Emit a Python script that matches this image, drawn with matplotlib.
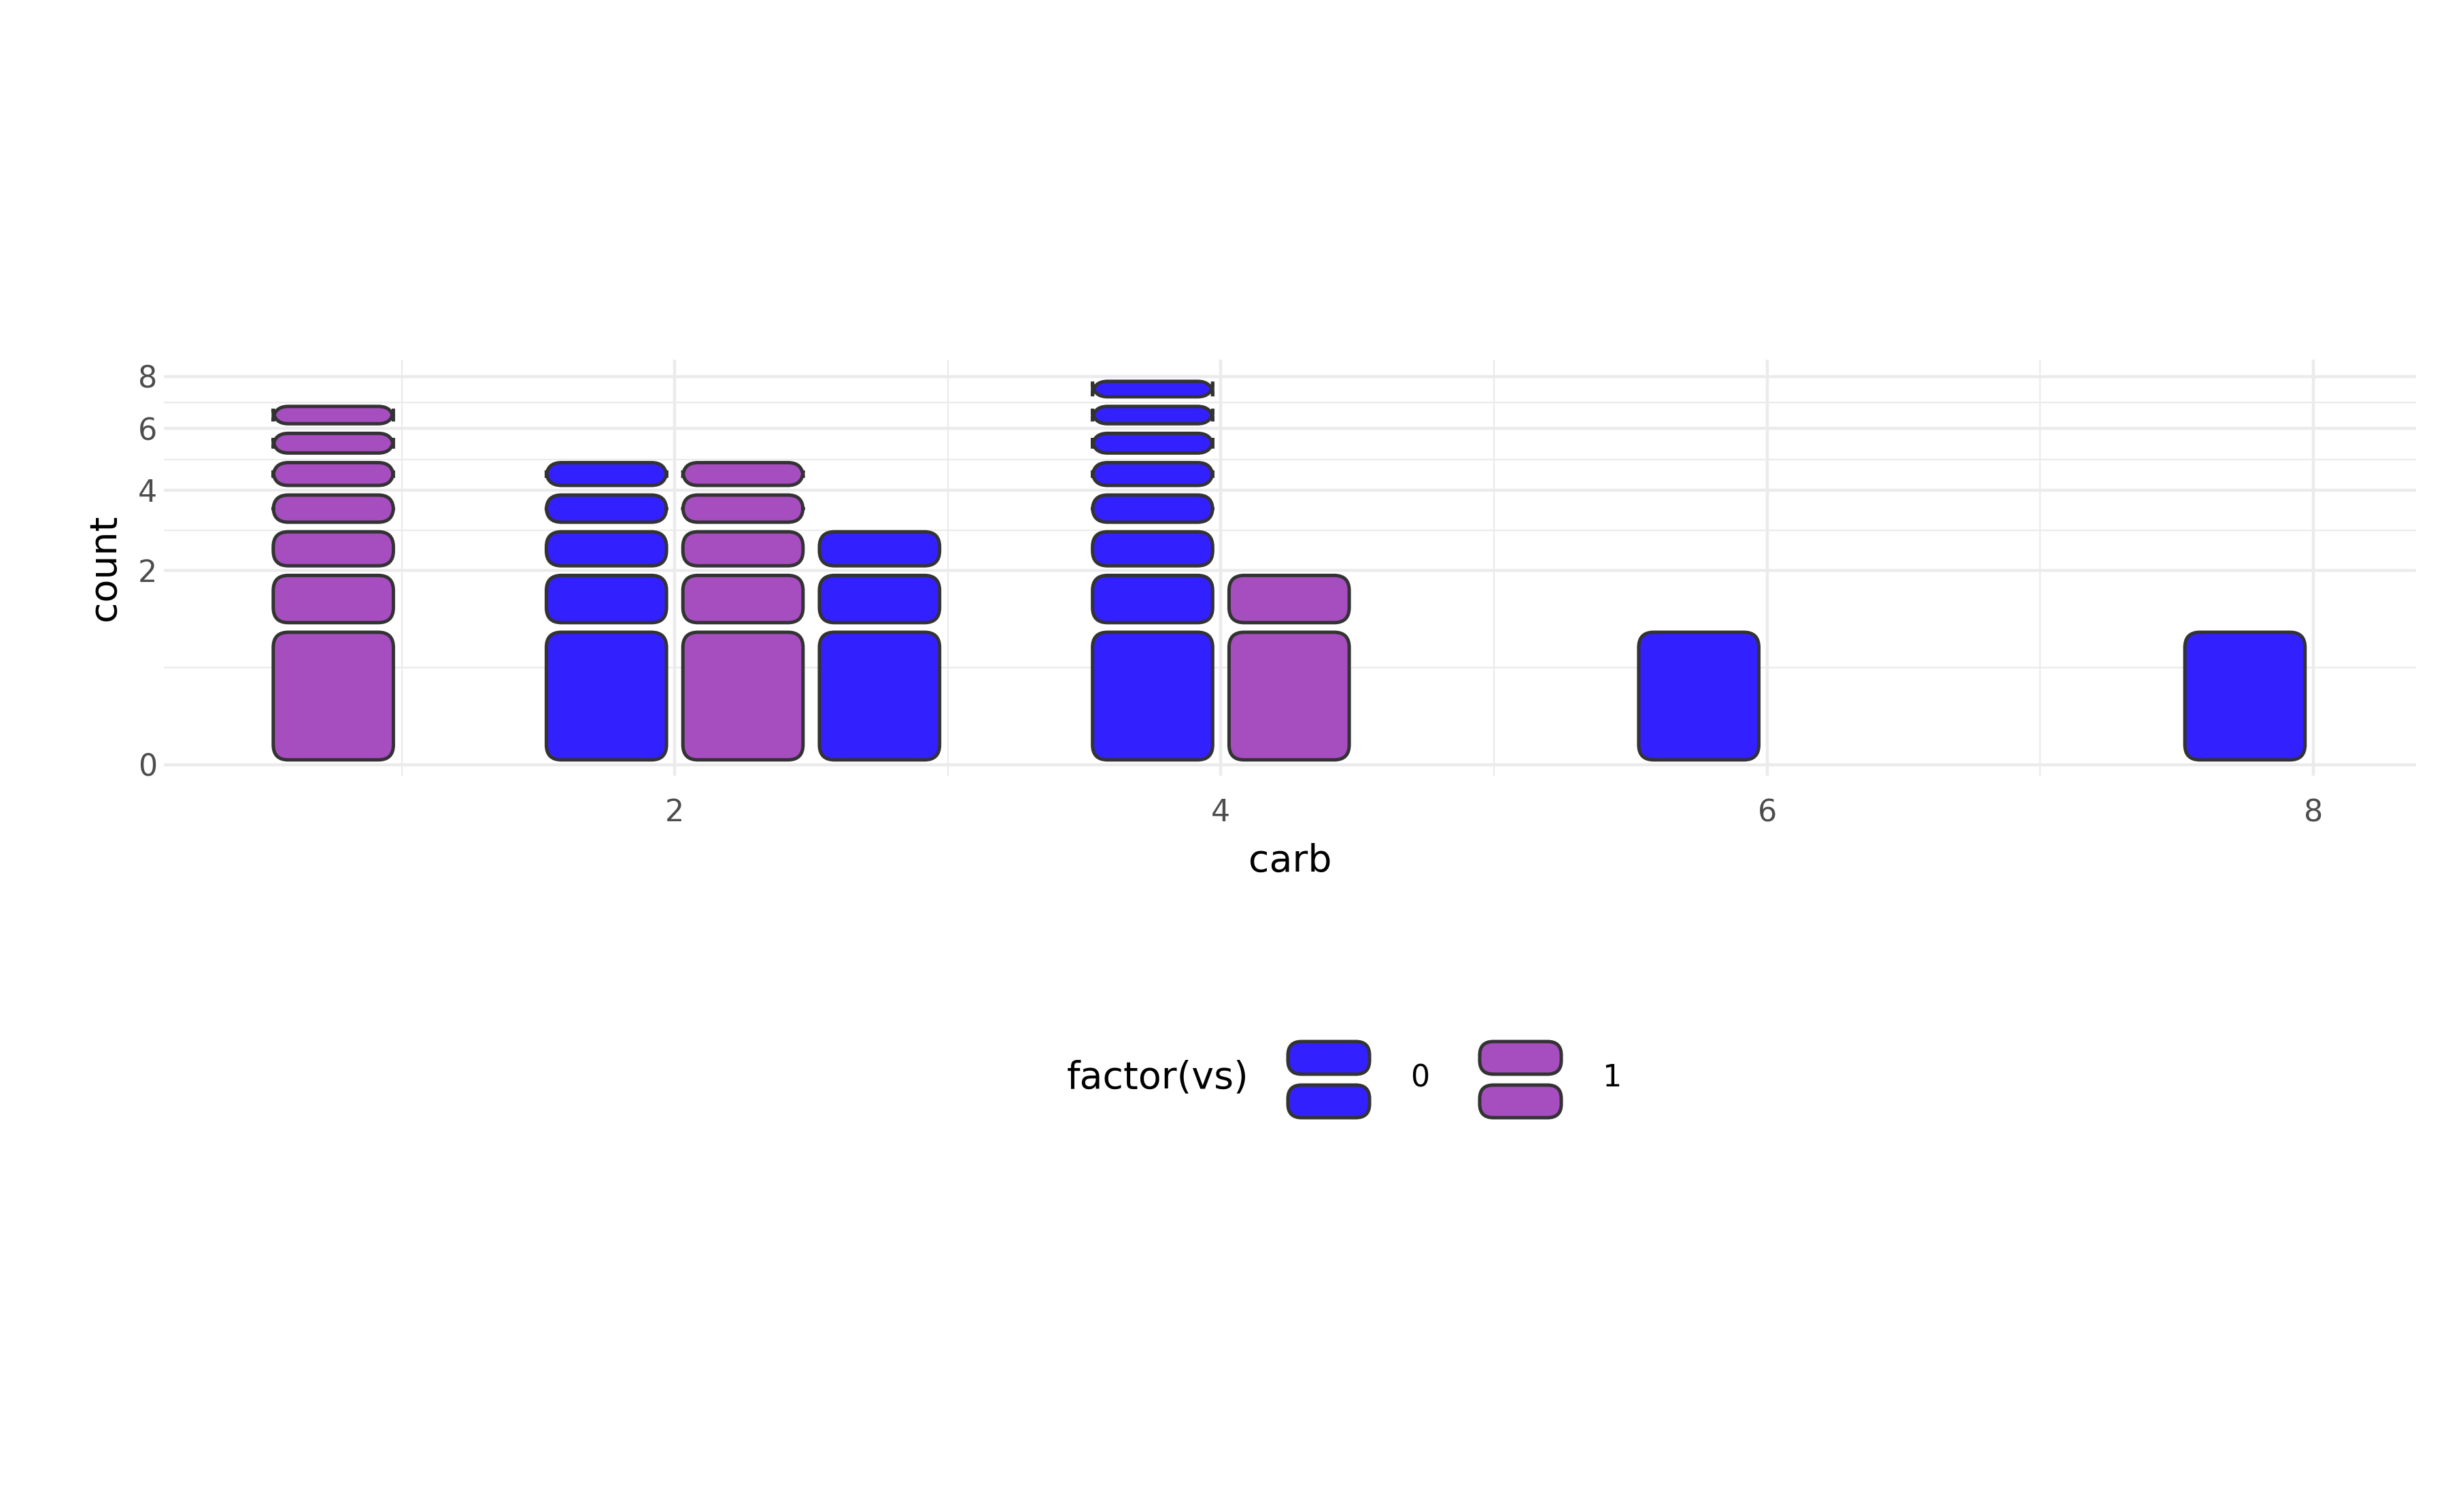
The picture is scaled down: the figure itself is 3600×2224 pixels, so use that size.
import numpy as np
import matplotlib
matplotlib.use("Agg")
import matplotlib.pyplot as plt
from matplotlib.patches import FancyBboxPatch

carb = [1, 2, 3, 4, 6, 8]
vs0 = [0, 5, 3, 8, 1, 1]
vs1 = [7, 5, 0, 2, 0, 0]
colors = {"0": "#3320FF", "1": "#A64DBF"}
yticks = [0, 2, 4, 6, 8]
xticks = [2, 4, 6, 8]

fig = plt.figure(figsize=(18, 11.12), dpi=200)
ax = fig.add_axes([0.067, 0.487, 0.92, 0.275])
ax.set_xlim(0.13, 8.377)
ax.set_ylim(-0.08, 2.95)

xpx = 0.92 * 18 / (8.377 - 0.13)
ypx = 0.275 * 11.12 / (2.95 + 0.08)
asp = xpx / ypx
w = 0.44
gap = 0.035
edge = "#333333"

def tile(x, k, col):
    b, t = np.sqrt(k - 1) + gap, np.sqrt(k) - gap
    p = FancyBboxPatch((x - w / 2, b), w, t - b,
                       boxstyle="round,pad=0,rounding_size=0.055",
                       mutation_aspect=asp, fc=col, ec=edge, lw=1.8, zorder=3)
    ax.add_patch(p)

for c, a, b in zip(carb, vs0, vs1):
    groups = [(n, colors[g]) for n, g in ((a, "0"), (b, "1")) if n > 0]
    for i, (n, col) in enumerate(groups):
        x = c - 0.25 + 0.5 * i
        for k in range(1, n + 1):
            tile(x, k, col)

sq = np.sqrt(yticks)
ax.set_yticks(sq)
ax.set_yticklabels([str(v) for v in yticks])
ax.set_yticks((sq[:-1] + sq[1:]) / 2, minor=True)
ax.set_xticks(xticks)
ax.set_xticks([1, 3, 5, 7], minor=True)
ax.grid(which="major", color="#EBEBEB", lw=1.6)
ax.grid(which="minor", color="#EBEBEB", lw=0.8)
ax.set_axisbelow(True)
for s in ax.spines.values():
    s.set_visible(False)
ax.tick_params(which="both", length=0, labelsize=16, labelcolor="#4D4D4D")
ax.tick_params(axis="x", pad=12)
ax.set_xlabel("carb", fontsize=20, labelpad=8)
ax.set_ylabel("count", fontsize=20, labelpad=8)

# legend
fig.text(0.51, 0.287, "factor(vs)", fontsize=20, ha="right", va="center")
lax = fig.add_axes([0, 0, 1, 1], facecolor="none")
lax.set_xlim(0, 18); lax.set_ylim(0, 11.12); lax.axis("off")
def ltile(x, y, col):
    lax.add_patch(FancyBboxPatch((x, y), 0.6, 0.24,
                  boxstyle="round,pad=0,rounding_size=0.1",
                  fc=col, ec=edge, lw=1.8))
for x0, lab in ((9.47, "0"), (10.88, "1")):
    ltile(x0, 3.22, colors[lab])
    ltile(x0, 2.90, colors[lab])
    lax.text(x0 + 0.9, 3.19, lab, fontsize=16, va="center", ha="left")

fig.savefig("out.png", dpi=200, facecolor="white")
